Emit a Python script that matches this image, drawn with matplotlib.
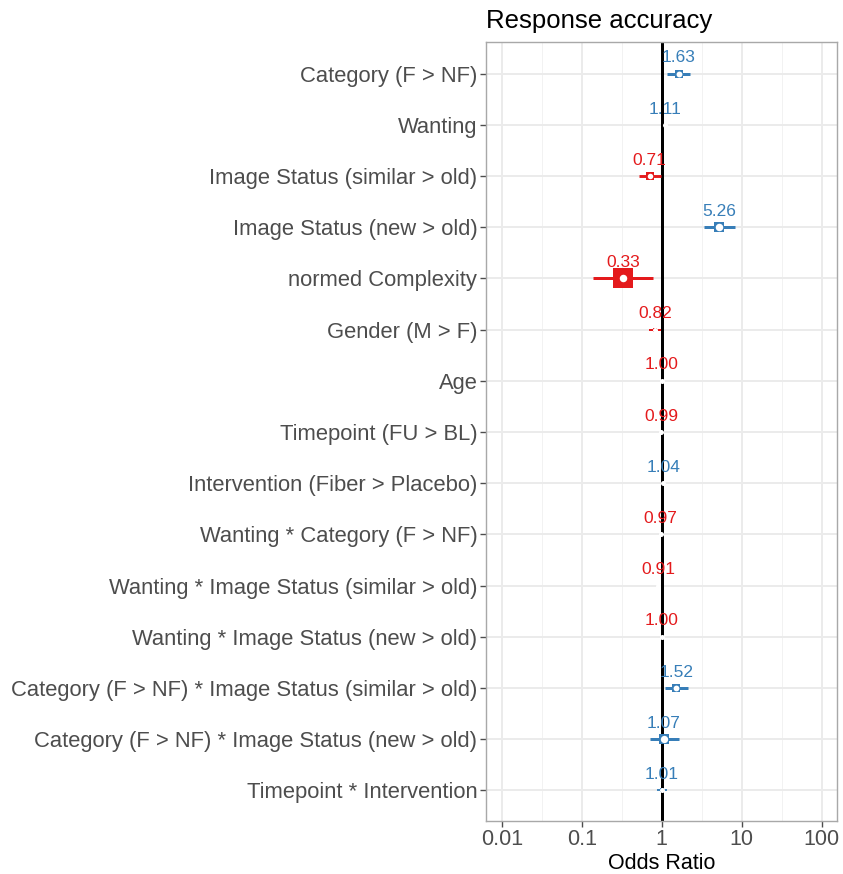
import numpy as np
import matplotlib.pyplot as plt
from matplotlib.ticker import FixedLocator, NullFormatter

plt.switch_backend('Agg')
plt.rcParams['font.family'] = ['Liberation Sans', 'DejaVu Sans']

# Model terms, top to bottom
terms = [
    "Category (F > NF)",
    "Wanting",
    "Image Status (similar > old)",
    "Image Status (new > old)",
    "normed Complexity",
    "Gender (M > F)",
    "Age",
    "Timepoint (FU > BL)",
    "Intervention (Fiber > Placebo)",
    "Wanting * Category (F > NF)",
    "Wanting * Image Status (similar > old)",
    "Wanting * Image Status (new > old)",
    "Category (F > NF) * Image Status (similar > old)",
    "Category (F > NF) * Image Status (new > old)",
    "Timepoint * Intervention",
]
odds_ratio = [1.63, 1.11, 0.71, 5.26, 0.33, 0.82, 1.00, 0.99, 1.04, 0.97, 0.91, 1.00, 1.52, 1.07, 1.01]
ci_low = [1.16, 1.09, 0.52, 3.38, 0.14, 0.70, 0.99, 0.96, 0.99, 0.96, 0.89, 0.98, 1.10, 0.71, 0.88]
ci_high = [2.26, 1.13, 0.97, 8.20, 0.77, 0.97, 1.01, 1.03, 1.10, 0.99, 0.93, 1.02, 2.12, 1.63, 1.18]
labels = ["1.63", "1.11", "0.71", "5.26", "0.33", "0.82", "1.00", "0.99", "1.04", "0.97", "0.91", "1.00", "1.52", "1.07", "1.01"]
x_ticks = [0.01, 0.1, 1, 10, 100]
x_ticklabels = ["0.01", "0.1", "1", "10", "100"]

BLUE = '#377EB8'
RED = '#E41A1C'
PX = 72 / 100  # points per pixel at dpi 100

fig = plt.figure(figsize=(8.43, 8.74), dpi=100)
ax = fig.add_axes([485.7 / 843, 1 - 821 / 874, (836.7 - 485.7) / 843, (821 - 42) / 874])
ax.set_xscale('log')
ax.set_xlim(10 ** -2.2, 10 ** 2.1875)
n = len(terms)
ypos = np.arange(n)[::-1] + 1
ax.set_ylim(0.4, n + 0.62)

# grid
for k in range(-3, 3):
    ax.axvline(10 ** (k + 0.5), color='#F2F2F2', lw=1.0 * PX, zorder=0)
for t in x_ticks:
    ax.axvline(t, color='#EBEBEB', lw=2 * PX, zorder=0)
for y in ypos:
    ax.axhline(y, color='#EBEBEB', lw=2 * PX, zorder=0)

ax.axvline(1, color='black', lw=3 * PX, zorder=1)

for i in range(n):
    y = ypos[i]
    col = BLUE if odds_ratio[i] > 1 else RED
    w = np.log10(ci_high[i]) - np.log10(ci_low[i])
    sq = max(2.0, 27 * w)
    lw = min(3.0, 1.0 + 7 * w)
    ax.plot([ci_low[i], ci_high[i]], [y, y], color=col, lw=lw * PX, solid_capstyle='butt', zorder=2)
    ax.plot([odds_ratio[i]], [y], marker='s', ms=sq * PX, color=col, mew=0, zorder=3)
    ax.plot([odds_ratio[i]], [y], marker='o', ms=min(7.5, max(5.0, sq * 0.75)) * PX, color='white', mew=0, zorder=4)
    ax.annotate(labels[i], (odds_ratio[i], y), xytext=(0, 6), textcoords='offset points',
                ha='center', va='bottom', color=col, fontsize=12.5, zorder=5)

ax.set_yticks(ypos)
ax.set_yticklabels(terms, fontsize=15.8, color='#4D4D4D')
ax.xaxis.set_major_locator(FixedLocator(x_ticks))
ax.xaxis.set_minor_locator(FixedLocator([]))
ax.set_xticklabels(x_ticklabels, fontsize=15.5, color='#4D4D4D')
ax.xaxis.set_minor_formatter(NullFormatter())
ax.tick_params(axis='both', which='major', length=4, width=1, color='#4D4D4D', pad=2)
for s in ax.spines.values():
    s.set_color('#A8A8A8')
    s.set_linewidth(1)

ax.set_xlabel('Odds Ratio', fontsize=15.5, labelpad=2)
ax.set_title('Response accuracy', fontsize=18.5, loc='left', pad=10)

fig.savefig('out.png', dpi=100)
